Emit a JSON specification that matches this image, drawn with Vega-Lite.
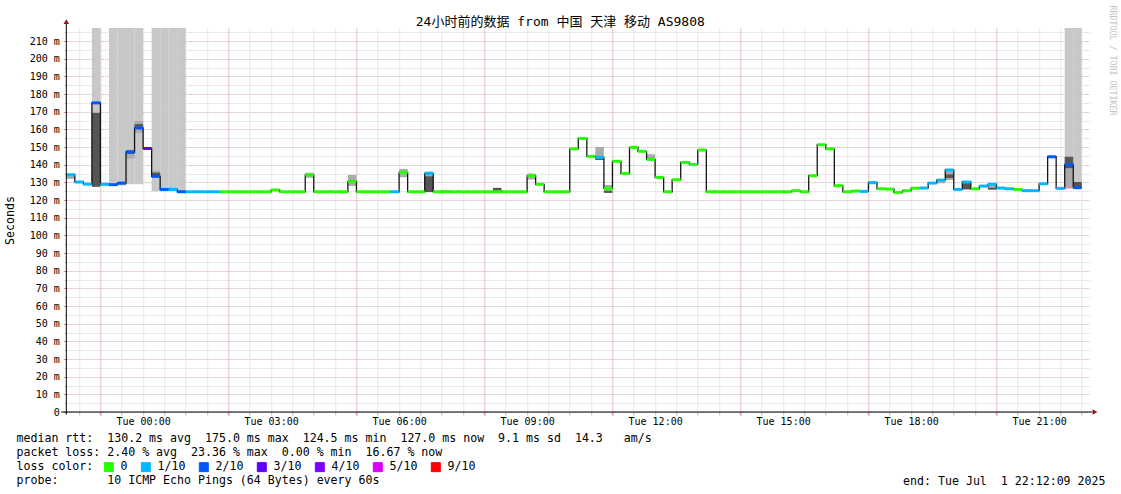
{
"$schema": "https://vega.github.io/schema/vega-lite/v6.json",
"width": 1024, "height": 384,
"autosize": {"type": "none"},
"padding": {"left": 66.3, "top": 28, "right": 30.7, "bottom": 82},
"background": "white",
"title": {"text": "24小时前的数据 from 中国 天津 移动 AS9808", "font": "DejaVu Sans Mono, Noto Sans CJK SC", "fontSize": 13, "fontWeight": "normal", "color": "black", "anchor": "middle", "dx": -18, "dy": 25.5, "offset": 2},
"data": {"values": [
{"t":-1.8,"e":-1.6,"v":134.3,"l":"1/10","lo":132,"hi":135},
{"t":-1.6,"e":-1.4,"v":130.2,"l":"1/10"},
{"t":-1.4,"e":-1.2,"v":129.0,"l":"1/10"},
{"t":-1.2,"e":-1.0,"v":175.0,"l":"2/10","c":127.5,"dlo":127.5,"dhi":169.4},
{"t":-1.0,"e":-0.8,"v":128.9,"l":"1/10"},
{"t":-0.8,"e":-0.6,"v":128.7,"l":"2/10","c":128.7},
{"t":-0.6,"e":-0.4,"v":129.6,"l":"2/10","c":128.7,"lo":128.3,"hi":130},
{"t":-0.4,"e":-0.2,"v":147.2,"l":"2/10","c":129,"lo":143.5,"hi":148.5,"dlo":146,"dhi":148},
{"t":-0.2,"e":0.0,"v":160.8,"l":"2/10","c":129,"lo":158,"hi":164.7,"dlo":161,"dhi":163},
{"t":0.0,"e":0.2,"v":149.2,"l":"3/10"},
{"t":0.2,"e":0.4,"v":133.4,"l":"2/10","c":125,"lo":133,"hi":136.5,"dlo":133.5,"dhi":135.5},
{"t":0.4,"e":0.6,"v":126.0,"l":"2/10","c":125},
{"t":0.6,"e":0.8,"v":126.0,"l":"1/10","c":125,"lo":125.5,"hi":127},
{"t":0.8,"e":1.0,"v":124.7,"l":"2/10","c":124.7},
{"t":1.0,"e":1.2,"v":124.7,"l":"1/10"},
{"t":1.2,"e":1.4,"v":124.7,"l":"1/10"},
{"t":1.4,"e":1.6,"v":124.7,"l":"1/10"},
{"t":1.6,"e":1.8,"v":124.7,"l":"1/10"},
{"t":1.8,"e":2.0,"v":124.7,"l":"0"},
{"t":2.0,"e":2.2,"v":124.7,"l":"0"},
{"t":2.2,"e":2.4,"v":124.7,"l":"0"},
{"t":2.4,"e":2.6,"v":124.7,"l":"0"},
{"t":2.6,"e":2.8,"v":124.7,"l":"0"},
{"t":2.8,"e":3.0,"v":124.7,"l":"0"},
{"t":3.0,"e":3.2,"v":125.7,"l":"0"},
{"t":3.2,"e":3.4,"v":124.7,"l":"0"},
{"t":3.4,"e":3.6,"v":124.7,"l":"0"},
{"t":3.6,"e":3.8,"v":124.7,"l":"0"},
{"t":3.8,"e":4.0,"v":134.2,"l":"0","lo":132.6,"hi":135.5},
{"t":4.0,"e":4.2,"v":124.7,"l":"0"},
{"t":4.2,"e":4.4,"v":124.7,"l":"0"},
{"t":4.4,"e":4.6,"v":124.7,"l":"0"},
{"t":4.6,"e":4.8,"v":124.7,"l":"0"},
{"t":4.8,"e":5.0,"v":130.4,"l":"0","lo":128,"hi":134.2,"dlo":130.5,"dhi":131.3},
{"t":5.0,"e":5.2,"v":124.7,"l":"0"},
{"t":5.2,"e":5.4,"v":124.7,"l":"0"},
{"t":5.4,"e":5.6,"v":124.7,"l":"0"},
{"t":5.6,"e":5.8,"v":124.7,"l":"0"},
{"t":5.8,"e":6.0,"v":124.7,"l":"1/10"},
{"t":6.0,"e":6.2,"v":135.7,"l":"0","lo":132.9,"hi":137.6},
{"t":6.2,"e":6.4,"v":124.7,"l":"0"},
{"t":6.4,"e":6.6,"v":124.7,"l":"0"},
{"t":6.6,"e":6.8,"v":135.0,"l":"1/10","lo":133.5,"hi":136.2,"dlo":124.5,"dhi":133.5},
{"t":6.8,"e":7.0,"v":124.7,"l":"0"},
{"t":7.0,"e":7.2,"v":124.7,"l":"0","lo":124.7,"hi":125.6},
{"t":7.2,"e":7.4,"v":124.7,"l":"0"},
{"t":7.4,"e":7.6,"v":124.7,"l":"0"},
{"t":7.6,"e":7.8,"v":124.7,"l":"0"},
{"t":7.8,"e":8.0,"v":124.7,"l":"0"},
{"t":8.0,"e":8.2,"v":124.7,"l":"0"},
{"t":8.2,"e":8.4,"v":124.7,"l":"0","dlo":124.7,"dhi":126.9},
{"t":8.4,"e":8.6,"v":124.7,"l":"0"},
{"t":8.6,"e":8.8,"v":124.7,"l":"0"},
{"t":8.8,"e":9.0,"v":124.7,"l":"0"},
{"t":9.0,"e":9.2,"v":133.8,"l":"0","lo":131.6,"hi":135},
{"t":9.2,"e":9.4,"v":128.9,"l":"0"},
{"t":9.4,"e":9.6,"v":124.7,"l":"0"},
{"t":9.6,"e":9.8,"v":124.7,"l":"0"},
{"t":9.8,"e":10.0,"v":124.7,"l":"0"},
{"t":10.0,"e":10.2,"v":149.0,"l":"0"},
{"t":10.2,"e":10.4,"v":154.9,"l":"0"},
{"t":10.4,"e":10.6,"v":144.7,"l":"0"},
{"t":10.6,"e":10.8,"v":144.2,"l":"1/10","lo":142.7,"hi":150.1,"dlo":142.7,"dhi":143.6},
{"t":10.8,"e":11.0,"v":126.6,"l":"0","lo":124.1,"hi":128.5,"dlo":124.1,"dhi":125.2},
{"t":11.0,"e":11.2,"v":141.9,"l":"0"},
{"t":11.2,"e":11.4,"v":135.0,"l":"0"},
{"t":11.4,"e":11.6,"v":149.8,"l":"0"},
{"t":11.6,"e":11.8,"v":147.6,"l":"0"},
{"t":11.8,"e":12.0,"v":143.0,"l":"0","lo":143,"hi":145.9},
{"t":12.0,"e":12.2,"v":132.8,"l":"0"},
{"t":12.2,"e":12.4,"v":124.7,"l":"0"},
{"t":12.4,"e":12.6,"v":131.5,"l":"0"},
{"t":12.6,"e":12.8,"v":141.3,"l":"0"},
{"t":12.8,"e":13.0,"v":140.2,"l":"0"},
{"t":13.0,"e":13.2,"v":148.3,"l":"0"},
{"t":13.2,"e":13.4,"v":124.7,"l":"0"},
{"t":13.4,"e":13.6,"v":124.7,"l":"0"},
{"t":13.6,"e":13.8,"v":124.7,"l":"0"},
{"t":13.8,"e":14.0,"v":124.7,"l":"0"},
{"t":14.0,"e":14.2,"v":124.7,"l":"0"},
{"t":14.2,"e":14.4,"v":124.7,"l":"0"},
{"t":14.4,"e":14.6,"v":124.7,"l":"0"},
{"t":14.6,"e":14.8,"v":124.7,"l":"0"},
{"t":14.8,"e":15.0,"v":124.7,"l":"0"},
{"t":15.0,"e":15.2,"v":124.7,"l":"0"},
{"t":15.2,"e":15.4,"v":125.3,"l":"0"},
{"t":15.4,"e":15.6,"v":124.7,"l":"0"},
{"t":15.6,"e":15.8,"v":133.8,"l":"0"},
{"t":15.8,"e":16.0,"v":151.3,"l":"0"},
{"t":16.0,"e":16.2,"v":149.0,"l":"0"},
{"t":16.2,"e":16.4,"v":128.1,"l":"0"},
{"t":16.4,"e":16.6,"v":124.7,"l":"0"},
{"t":16.6,"e":16.8,"v":125.1,"l":"0"},
{"t":16.8,"e":17.0,"v":124.9,"l":"1/10"},
{"t":17.0,"e":17.2,"v":129.8,"l":"1/10","lo":129.5,"hi":130.7},
{"t":17.2,"e":17.4,"v":126.4,"l":"0"},
{"t":17.4,"e":17.6,"v":126.2,"l":"0"},
{"t":17.6,"e":17.8,"v":124.3,"l":"0"},
{"t":17.8,"e":18.0,"v":125.3,"l":"0"},
{"t":18.0,"e":18.2,"v":126.7,"l":"0"},
{"t":18.2,"e":18.4,"v":126.8,"l":"1/10"},
{"t":18.4,"e":18.6,"v":129.6,"l":"1/10"},
{"t":18.6,"e":18.8,"v":131.3,"l":"1/10","lo":129.5,"hi":130.8},
{"t":18.8,"e":19.0,"v":137.0,"l":"1/10","lo":131.3,"hi":136.4,"dlo":132.5,"dhi":134.5},
{"t":19.0,"e":19.2,"v":126.0,"l":"1/10"},
{"t":19.2,"e":19.4,"v":130.2,"l":"1/10","dlo":126,"dhi":129.8},
{"t":19.4,"e":19.6,"v":126.4,"l":"0"},
{"t":19.6,"e":19.8,"v":127.9,"l":"1/10"},
{"t":19.8,"e":20.0,"v":128.9,"l":"1/10","lo":125.8,"hi":128.5,"dlo":126,"dhi":127},
{"t":20.0,"e":20.2,"v":126.8,"l":"1/10"},
{"t":20.2,"e":20.4,"v":126.4,"l":"1/10"},
{"t":20.4,"e":20.6,"v":126.0,"l":"0","lo":125.5,"hi":126.5},
{"t":20.6,"e":20.8,"v":125.3,"l":"1/10"},
{"t":20.8,"e":21.0,"v":125.3,"l":"1/10"},
{"t":21.0,"e":21.2,"v":129.2,"l":"1/10"},
{"t":21.2,"e":21.4,"v":144.5,"l":"2/10"},
{"t":21.4,"e":21.6,"v":126.6,"l":"1/10"},
{"t":21.6,"e":21.8,"v":140.0,"l":"2/10","c":126.6,"lo":126.6,"hi":138,"dlo":138,"dhi":144.5},
{"t":21.8,"e":22.0,"v":127.0,"l":"2/10","c":126.6,"dlo":127,"dhi":130.2}
]},
"resolve": {"axis": {"x": "independent", "y": "independent"}},
"layer": [
{"transform": [{"filter": "isValid(datum.c)"}],
 "mark": {"type": "rect", "color": "#c8c8c8"},
 "encoding": {
  "x": {"field": "t", "type": "quantitative", "scale": {"domain": [-1.8, 22.2], "nice": false, "zero": false},
   "axis": {"orient": "bottom", "values": [-1.5,-1,-0.5,0,0.5,1,1.5,2,2.5,3,3.5,4,4.5,5,5.5,6,6.5,7,7.5,8,8.5,9,9.5,10,10.5,11,11.5,12,12.5,13,13.5,14,14.5,15,15.5,16,16.5,17,17.5,18,18.5,19,19.5,20,20.5,21,21.5,22],
    "grid": true, "gridColor": "#d4d4d4", "gridDash": [1,1], "ticks": true, "tickColor": "#b8b8b8", "tickSize": 3, "labels": false, "domain": false, "title": null}},
  "x2": {"field": "e"},
  "y": {"field": "c", "type": "quantitative", "scale": {"domain": [0, 217.4], "nice": false, "zero": false},
   "axis": {"orient": "left", "values": [5,15,25,35,45,55,65,75,85,95,105,115,125,135,145,155,165,175,185,195,205,215],
    "grid": true, "gridColor": "#d4d4d4", "gridDash": [1,1], "ticks": true, "tickColor": "#b8b8b8", "tickSize": 2, "labels": false, "domain": false, "title": null}},
  "y2": {"datum": 217.4}
 }},
{"mark": {"type": "rect", "color": "#ababab"},
 "encoding": {
  "x": {"field": "t", "type": "quantitative",
   "axis": {"orient": "bottom", "values": [-1,2,5,8,11,14,17,20], "grid": true, "gridColor": "#f4a0a0", "gridDash": [1,1], "ticks": true, "tickColor": "#ee8080", "tickSize": 3, "labels": false, "domain": false,
    "title": "end: Tue Jul\u00a0\u00a01 22:12:09 2025", "titleFontSize": 11.6, "titleX": 1038.7, "titleY": 72, "titleAlign": "right", "titleAnchor": "end", "titleBaseline": "alphabetic"}},
  "x2": {"field": "e"},
  "y": {"field": "lo", "type": "quantitative",
   "axis": {"orient": "left", "values": [0,10,20,30,40,50,60,70,80,90,100,110,120,130,140,150,160,170,180,190,200,210],
    "grid": true, "gridColor": "#f4a0a0", "gridDash": [1,1], "ticks": true, "tickColor": "#ee8080", "tickSize": 3, "labelPadding": 4, "labelFontSize": 10,
    "labelExpr": "datum.value == 0 ? '0' : datum.value + ' m'", "domain": false,
    "title": "Seconds", "titleFontSize": 11.6, "titleX": -56, "titleY": 192, "titleAngle": 270, "titleAlign": "center", "titleBaseline": "middle"}},
  "y2": {"field": "hi"}
 }},
{"mark": {"type": "rect", "color": "#555555"},
 "encoding": {
  "x": {"field": "t", "type": "quantitative",
   "axis": {"orient": "bottom", "values": [0,3,6,9,12,15,18,21], "grid": false, "ticks": false, "domain": false, "labelPadding": 4, "labelFontSize": 10,
    "labelExpr": "'Tue ' + (datum.value < 10 ? '0' : '') + datum.value + ':00'",
    "title": ["median\u00a0rtt:\u00a0\u00a0130.2\u00a0ms\u00a0avg\u00a0\u00a0175.0\u00a0ms\u00a0max\u00a0\u00a0124.5\u00a0ms\u00a0min\u00a0\u00a0127.0\u00a0ms\u00a0now\u00a0\u00a09.1\u00a0ms\u00a0sd\u00a0\u00a014.3\u00a0\u00a0\u00a0am/s",
              "packet\u00a0loss:\u00a02.40\u00a0%\u00a0avg\u00a0\u00a023.36\u00a0%\u00a0max\u00a0\u00a00.00\u00a0%\u00a0min\u00a0\u00a016.67\u00a0%\u00a0now",
              "loss\u00a0color:",
              "probe:\u00a0\u00a0\u00a0\u00a0\u00a0\u00a0\u00a010\u00a0ICMP\u00a0Echo\u00a0Pings\u00a0(64\u00a0Bytes)\u00a0every\u00a060s"],
    "titleFontSize": 11.6, "titleX": -50.3, "titleY": 20.8, "titleAlign": "left", "titleAnchor": "start", "titleBaseline": "top", "titleLineHeight": 14}},
  "x2": {"field": "e"},
  "y": {"field": "dlo", "type": "quantitative",
   "axis": {"orient": "right", "grid": false, "ticks": false, "labels": false, "domain": false,
    "title": "RRDTOOL / TOBI OETIKER", "titleFontSize": 8.3, "titleColor": "#c4c4c4", "titleAngle": 90, "titleX": 20.7, "titleY": -23, "titleAlign": "left", "titleBaseline": "middle"}},
  "y2": {"field": "dhi"}
 }},
{"mark": {"type": "line", "interpolate": "step-after", "color": "#151515", "strokeWidth": 1.3},
 "encoding": {
  "x": {"field": "t", "type": "quantitative", "axis": null},
  "y": {"field": "v", "type": "quantitative", "axis": null}
 }},
{"transform": [{"filter": "false"}],
 "mark": {"type": "square", "filled": true, "opacity": 1},
 "encoding": {
  "x": {"field": "t", "type": "quantitative", "axis": null},
  "y": {"field": "v", "type": "quantitative", "axis": null},
  "color": {"field": "l", "type": "nominal",
   "scale": {"domain": ["0","1/10","2/10","3/10","4/10","5/10","9/10"], "range": ["#26ff00","#00b8ff","#0059ff","#5e00ff","#7e00ff","#dd00ff","#ff0000"]},
   "legend": {"orient": "none", "legendX": 36.7, "legendY": 433, "direction": "horizontal", "title": null, "symbolType": "square", "symbolSize": 81,
    "symbolStrokeColor": "black", "symbolStrokeWidth": 1, "symbolOpacity": 1,
    "labelFont": "DejaVu Sans Mono", "labelFontSize": 11.6, "labelColor": "black", "labelOffset": 6, "columnPadding": 11, "padding": 0,
    "encode": {"symbols": {"update": {"fill": {"scale": "color", "field": "value"}, "fillOpacity": {"value": 1}, "stroke": {"value": "black"}, "strokeWidth": {"value": 1}}}}}}
 }},
{"mark": {"type": "rule", "strokeWidth": 3},
 "encoding": {
  "x": {"field": "t", "type": "quantitative", "axis": null},
  "x2": {"field": "e"},
  "y": {"field": "v", "type": "quantitative", "axis": null},
  "color": {"field": "l", "type": "nominal", "legend": null}
 }},
{"data": {"values": [{}]},
 "mark": {"type": "rule", "color": "black", "strokeWidth": 1},
 "encoding": {
  "x": {"datum": -1.92, "type": "quantitative", "axis": null},
  "x2": {"datum": 22.25},
  "y": {"datum": 0, "type": "quantitative", "axis": null}
 }},
{"data": {"values": [{}]},
 "mark": {"type": "rule", "color": "black", "strokeWidth": 1},
 "encoding": {
  "x": {"datum": -1.8, "type": "quantitative", "axis": null},
  "y": {"datum": -1.5, "type": "quantitative", "axis": null},
  "y2": {"datum": 220}
 }},
{"data": {"values": [{}]},
 "mark": {"type": "point", "shape": "triangle-up", "filled": true, "color": "#8b1a1a", "size": 30, "opacity": 1},
 "encoding": {
  "x": {"datum": -1.8, "type": "quantitative", "axis": null},
  "y": {"datum": 221, "type": "quantitative", "axis": null}
 }},
{"data": {"values": [{}]},
 "mark": {"type": "point", "shape": "triangle-right", "filled": true, "color": "#8b1a1a", "size": 30, "opacity": 1},
 "encoding": {
  "x": {"datum": 22.31, "type": "quantitative", "axis": null},
  "y": {"datum": 0, "type": "quantitative", "axis": null}
 }}
],
"config": {
 "view": {"stroke": null},
 "axis": {"labelFont": "DejaVu Sans Mono", "titleFont": "DejaVu Sans Mono", "labelColor": "black", "titleColor": "black", "titleFontWeight": "normal", "gridWidth": 1, "tickWidth": 1},
 "legend": {"labelFont": "DejaVu Sans Mono"}
}
}
